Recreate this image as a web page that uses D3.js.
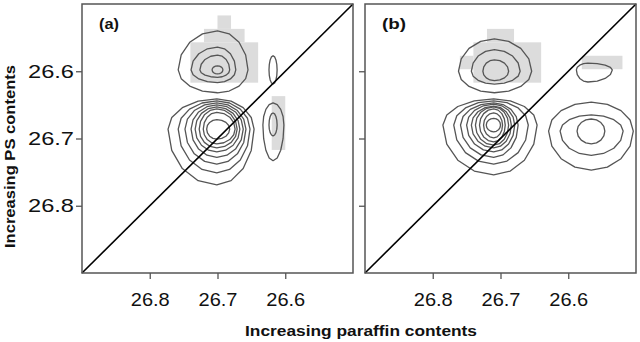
<!DOCTYPE html>
<html>
<head>
<meta charset="utf-8">
<script src="https://cdn.jsdelivr.net/npm/d3@7"></script>
<style>
  html, body { margin: 0; padding: 0; background: #fff; }
  svg { display: block; }
</style>
</head>
<body>
<svg id="chart"></svg>
<script>
// axis values (ppm), both axes run from 26.9 down to 26.5
const axisDomain = [26.9, 26.5];
const xTicks = [26.8, 26.7, 26.6];
const yTicks = [26.6, 26.7, 26.8];
const panelLabels = ["(a)", "(b)"];

// contour peaks: centre [x, y] and rings [xLeft, xRight, yTop, yBottom], all ppm
const contoursA = [
    { c: [26.700, 26.598], rings: [
        [26.758, 26.655, 26.540, 26.632],
        [26.739, 26.673, 26.564, 26.617],
        [26.726, 26.682, 26.576, 26.609],
        [26.708, 26.692, 26.592, 26.604]] },
    { c: [26.618, 26.598], rings: [
        [26.624, 26.612, 26.577, 26.619]] },
    { c: [26.701, 26.686], rings: [
        [26.773, 26.646, 26.641, 26.769],
        [26.758, 26.652, 26.644, 26.751],
        [26.748, 26.658, 26.647, 26.738],
        [26.739, 26.662, 26.650, 26.728],
        [26.733, 26.667, 26.653, 26.720],
        [26.727, 26.671, 26.656, 26.714],
        [26.721, 26.674, 26.661, 26.708],
        [26.716, 26.682, 26.672, 26.701]] },
    { c: [26.618, 26.680], rings: [
        [26.633, 26.602, 26.647, 26.733],
        [26.624, 26.612, 26.662, 26.696]] }
];
const contoursB = [
    { c: [26.709, 26.600], rings: [
        [26.762, 26.654, 26.552, 26.632],
        [26.743, 26.671, 26.568, 26.619],
        [26.726, 26.688, 26.583, 26.614]] },
    { c: [26.571, 26.598], rings: [
        [26.588, 26.535, 26.588, 26.616]] },
    { c: [26.710, 26.680], rings: [
        [26.785, 26.646, 26.641, 26.754],
        [26.769, 26.659, 26.644, 26.738],
        [26.759, 26.674, 26.647, 26.728],
        [26.750, 26.679, 26.649, 26.720],
        [26.743, 26.684, 26.652, 26.714],
        [26.737, 26.688, 26.653, 26.710],
        [26.731, 26.693, 26.656, 26.705],
        [26.725, 26.697, 26.662, 26.699],
        [26.721, 26.700, 26.670, 26.690]] },
    { c: [26.566, 26.689], rings: [
        [26.629, 26.504, 26.646, 26.747],
        [26.612, 26.519, 26.665, 26.725],
        [26.587, 26.546, 26.671, 26.708]] }
];

// shaded cells [x0, x1, y0, y1], ppm
const cellsA = [
    [26.70, 26.68, 26.517, 26.537],
    [26.72, 26.66, 26.537, 26.557],
    [26.74, 26.64, 26.557, 26.617],
    [26.62, 26.60, 26.637, 26.717]
];
const cellsB = [
    [26.72, 26.68, 26.537, 26.557],
    [26.74, 26.64, 26.557, 26.617],
    [26.76, 26.74, 26.577, 26.597],
    [26.58, 26.52, 26.577, 26.597]
];

const W = 640, H = 342;
const font = "'Liberation Sans', Arial, sans-serif";
const panelSize = { w: 271, h: 269, top: 4 };
const panelLeft = [82, 365];

const svg = d3.select("#chart").attr("width", W).attr("height", H);

const ringLine = d3.line().curve(d3.curveLinearClosed);

function drawPanel(i, contours, cells) {
    const g = svg.append("g")
        .attr("transform", `translate(${panelLeft[i]},${panelSize.top})`);

    const x = d3.scaleLinear().domain(axisDomain).range([0, panelSize.w]);
    const y = d3.scaleLinear().domain([axisDomain[1], axisDomain[0]]).range([0, panelSize.h]);

    g.selectAll(".cell")
        .data(cells)
        .enter().append("rect")
        .attr("class", "cell")
        .attr("x", d => x(d[0]))
        .attr("y", d => y(d[2]))
        .attr("width", d => x(d[1]) - x(d[0]))
        .attr("height", d => y(d[3]) - y(d[2]))
        .attr("fill", "#dcdcdc");

    // each ring is an ellipse with separate half-widths per side
    const rings = [];
    contours.forEach(p => {
        p.rings.forEach(r => {
            const cx = x(p.c[0]), cy = y(p.c[1]);
            const rl = cx - x(r[0]), rr = x(r[1]) - cx;
            const rt = cy - y(r[2]), rb = y(r[3]) - cy;
            const pts = d3.range(16).map(k => {
                const a = k / 16 * 2 * Math.PI;
                const c = Math.cos(a), s = Math.sin(a);
                return [cx + c * (c >= 0 ? rr : rl), cy + s * (s >= 0 ? rb : rt)];
            });
            rings.push(pts);
        });
    });

    g.selectAll(".ring")
        .data(rings)
        .enter().append("path")
        .attr("class", "ring")
        .attr("d", ringLine)
        .attr("fill", "none")
        .attr("stroke", "#555")
        .attr("stroke-width", 1.3)
        .attr("stroke-linejoin", "round");

    // diagonal
    g.append("line")
        .attr("x1", x(axisDomain[0])).attr("y1", y(axisDomain[0]))
        .attr("x2", x(axisDomain[1])).attr("y2", y(axisDomain[1]))
        .attr("stroke", "#000")
        .attr("stroke-width", 1.6);

    g.append("rect")
        .attr("width", panelSize.w)
        .attr("height", panelSize.h)
        .attr("fill", "none")
        .attr("stroke", "#555")
        .attr("stroke-width", 1.5);

    const xAxis = g.append("g")
        .attr("transform", `translate(0,${panelSize.h})`)
        .call(d3.axisBottom(x).tickValues(xTicks).tickSize(6).tickFormat(d3.format(".1f")));
    xAxis.select(".domain").remove();
    xAxis.selectAll("line").attr("stroke", "#555").attr("stroke-width", 1.3);
    xAxis.selectAll("text")
        .attr("y", 20)
        .attr("dy", "0.71em")
        .attr("fill", "#111")
        .style("font-family", font)
        .style("font-size", "19px")
        .attr("textLength", 39)
        .attr("lengthAdjust", "spacingAndGlyphs");

    const yAxis = g.append("g")
        .call(d3.axisLeft(y).tickValues(yTicks).tickSize(6).tickFormat(i === 0 ? d3.format(".1f") : ""));
    yAxis.select(".domain").remove();
    yAxis.selectAll("line").attr("stroke", "#555").attr("stroke-width", 1.3);
    yAxis.selectAll("text")
        .attr("x", -8)
        .attr("fill", "#111")
        .style("font-family", font)
        .style("font-size", "19px")
        .attr("textLength", 46)
        .attr("lengthAdjust", "spacingAndGlyphs");

    g.append("text")
        .attr("x", 17)
        .attr("y", 25)
        .style("font-family", font)
        .style("font-size", "14px")
        .style("font-weight", "bold")
        .attr("fill", "#111")
        .attr("textLength", i === 0 ? 20 : 24)
        .attr("lengthAdjust", "spacingAndGlyphs")
        .text(panelLabels[i]);
}

drawPanel(0, contoursA, cellsA);
drawPanel(1, contoursB, cellsB);

svg.append("text")
    .attr("transform", "translate(15,156.5) rotate(-90)")
    .attr("text-anchor", "middle")
    .style("font-family", font)
    .style("font-size", "14px")
    .style("font-weight", "bold")
    .attr("fill", "#111")
    .attr("textLength", 183)
    .attr("lengthAdjust", "spacingAndGlyphs")
    .text("Increasing PS contents");

svg.append("text")
    .attr("x", 361)
    .attr("y", 336)
    .attr("text-anchor", "middle")
    .style("font-family", font)
    .style("font-size", "15px")
    .style("font-weight", "bold")
    .attr("fill", "#111")
    .attr("textLength", 232)
    .attr("lengthAdjust", "spacingAndGlyphs")
    .text("Increasing paraffin contents");
</script>
</body>
</html>
